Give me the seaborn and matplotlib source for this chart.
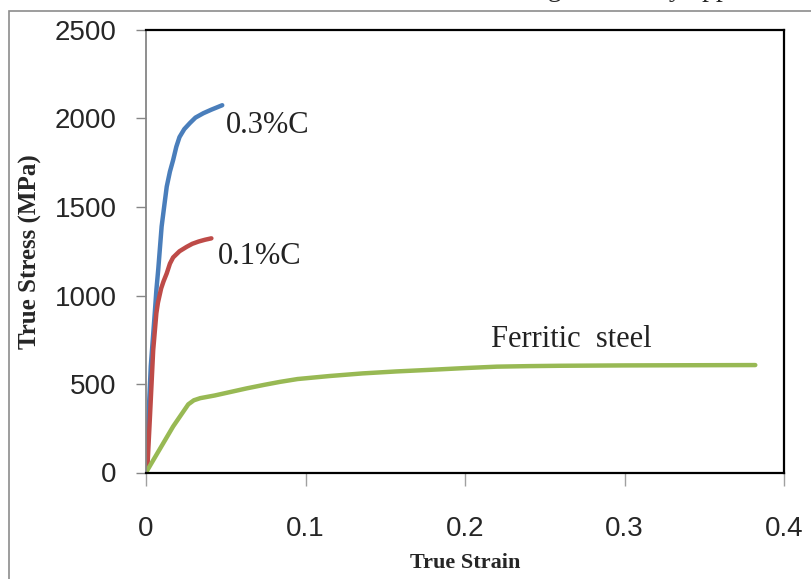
"""True stress vs true strain curves for two martensitic steels and a ferritic steel"""

import matplotlib
matplotlib.use("Agg")
import matplotlib.pyplot as plt
import pandas as pd
import seaborn as sns
from matplotlib.patches import Rectangle

# values
strain_03c = [0, 0.003, 0.0055, 0.0065, 0.0077, 0.0098, 0.0115, 0.013, 0.015, 0.017,
              0.019, 0.021, 0.024, 0.0276, 0.031, 0.036, 0.041, 0.0478]
stress_03c = [0, 600, 900, 1030, 1150, 1390, 1510, 1615, 1700, 1765,
              1840, 1895, 1940, 1975, 2005, 2030, 2050, 2075]

strain_01c = [0, 0.001, 0.0025, 0.0045, 0.0065, 0.0075, 0.0085, 0.0095, 0.011, 0.013,
              0.015, 0.017, 0.021, 0.0255, 0.029, 0.033, 0.037, 0.041]
stress_01c = [0, 50, 320, 690, 900, 960, 1000, 1040, 1080, 1125,
              1180, 1215, 1250, 1275, 1292, 1305, 1315, 1323]

strain_ferritic = [0, 0.017, 0.0265, 0.03, 0.034, 0.043, 0.053, 0.063, 0.074, 0.084, 0.095,
                   0.115, 0.136, 0.157, 0.178, 0.2, 0.22, 0.24, 0.26, 0.3, 0.34, 0.382]
stress_ferritic = [0, 260, 385, 408, 420, 435, 455, 475, 495, 512, 528,
                   545, 560, 571, 580, 590, 598, 601, 603, 605, 606, 607]

x_ticks = [0, 0.1, 0.2, 0.3, 0.4]
x_tick_labels = ["0", "0.1", "0.2", "0.3", "0.4"]
y_ticks = [0, 500, 1000, 1500, 2000, 2500]

series = [
    ("0.3%C", strain_03c, stress_03c, "#4a7ebb"),
    ("0.1%C", strain_01c, stress_01c, "#be4b48"),
    ("Ferritic  steel", strain_ferritic, stress_ferritic, "#98b954"),
]

sns.set_style("white")
plt.rcParams["font.family"] = ["Liberation Sans", "DejaVu Sans"]

fig = plt.figure(figsize=(8.11, 5.79), dpi=100)
ax = fig.add_axes([146 / 811, 1 - 472.5 / 579, (784 - 146) / 811, (472.5 - 30) / 579])

for name, xs, ys, color in series:
    df = pd.DataFrame({"strain": xs, "stress": ys})
    sns.lineplot(data=df, x="strain", y="stress", sort=False, estimator=None,
                 color=color, linewidth=3.2, ax=ax, solid_capstyle="round",
                 solid_joinstyle="round")

ax.set_xlim(0, 0.4)
ax.set_ylim(0, 2500)
ax.set_xticks(x_ticks)
ax.set_xticklabels(x_tick_labels)
ax.set_yticks(y_ticks)

for side in ["top", "right", "bottom"]:
    ax.spines[side].set_color("black")
    ax.spines[side].set_linewidth(1.6)
ax.spines["left"].set_color("#868686")
ax.spines["left"].set_linewidth(1.3)

ax.tick_params(axis="y", direction="out", length=7, width=1, color="#868686",
               labelsize=20, pad=14, left=True)
ax.tick_params(axis="x", direction="out", length=9, width=1, color="#a0a0a0",
               labelsize=20, pad=22, bottom=True)

ax.set_xlabel("True Strain", family="Liberation Serif", weight="bold", fontsize=16, labelpad=8)
ax.set_ylabel("True Stress (MPa)", family="Liberation Serif", weight="bold", fontsize=18, labelpad=9)

serif = dict(family="Liberation Serif", fontsize=22, color="#222222", va="center", ha="left")
ax.text(0.050, 1960, "0.3%C", **serif)
ax.text(0.045, 1220, "0.1%C", **serif)
ax.text(0.216, 750, "Ferritic  steel", **serif)

# outer frame of the page figure, cut off at right and bottom
fig.patches.append(Rectangle((9 / 811, -0.1), 1.2, 1 - 11 / 579 + 0.1, transform=fig.transFigure,
                             fill=False, edgecolor="#8c8c8c", linewidth=1.2))

# bits of the document text above, clipped by the crop as in the source page
fig.text(526 / 811, 1 + 4 / 579, "ing", family="Liberation Serif", fontsize=20, va="baseline")
fig.text(655 / 811, 1 + 4 / 579, "by appl", family="Liberation Serif", fontsize=20, va="baseline")

fig.savefig("out.png", dpi=100)
